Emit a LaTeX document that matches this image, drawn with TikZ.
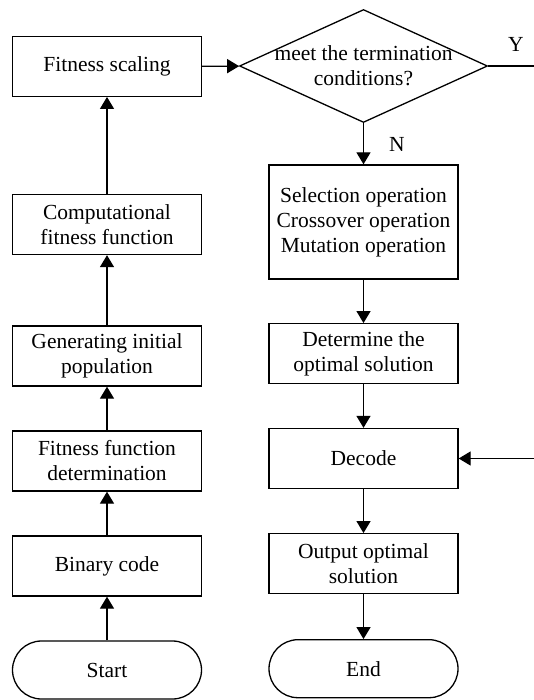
\documentclass[tikz,border=0pt]{standalone}
\usepackage{fontspec}
\setmainfont{Liberation Serif}
\usetikzlibrary{shapes.geometric,arrows.meta}

\begin{document}
\begin{tikzpicture}[x=0.5pt,y=-0.5pt, line width=0.65pt,
	font=\fontsize{10.75}{12.5}\selectfont,
	box/.style={draw, align=center, inner sep=1pt, minimum width=94.5pt, minimum height=30pt},
	term/.style={draw, rounded corners=14.5pt, minimum width=94.5pt, minimum height=29pt},
	ask/.style={draw, diamond, inner sep=0pt, minimum width=124pt, minimum height=56.5pt},
	arr/.style={-{Triangle[length=6pt,width=7pt]}}]

\useasboundingbox (0,0) rectangle (534,700);

% left column, bottom to top
\node[term] (start) at (107,670) {Start};
\node[box] (bin) at (107,566) {Binary code};
\node[box] (ffd) at (107,461) {Fitness function\\determination};
\node[box] (gen) at (107,356) {Generating initial\\population};
\node[box] (comp) at (107,224.5) {Computational\\fitness function};
\node[box] (fs) at (107,66.3) {Fitness scaling};

% right column
\node[ask] (dia) at (363.5,66) {};
\node[align=center] (diatext) at (dia) {meet the termination\\conditions?};
\node[box, minimum height=57pt] (sel) at (363.5,222) {Selection operation\\Crossover operation\\Mutation operation};
\node[box] (det) at (363.5,353.7) {Determine the\\optimal solution};
\node[box] (dec) at (363.5,458.5) {Decode};
\node[box] (out) at (363.5,563.7) {Output optimal\\solution};
\node[term] (end) at (363.5,668.7) {End};

\coordinate (yend) at (534,66);
\coordinate (back) at (534,458.5);

\draw[arr] (start) -- (bin);
\draw[arr] (bin) -- (ffd);
\draw[arr] (ffd) -- (gen);
\draw[arr] (gen) -- (comp);
\draw[arr] (comp) -- (fs);
\draw[arr] (fs) -- (dia);
\draw (dia.east) -- (yend);
\node (ylab) at (516,44) {Y};
\draw[arr] (dia) -- (sel);
\node (nlab) at (397,144) {N};
\draw[arr] (sel) -- (det);
\draw[arr] (det) -- (dec);
\draw[arr] (back) -- (dec);
\draw[arr] (dec) -- (out);
\draw[arr] (out) -- (end);

\end{tikzpicture}
\end{document}
